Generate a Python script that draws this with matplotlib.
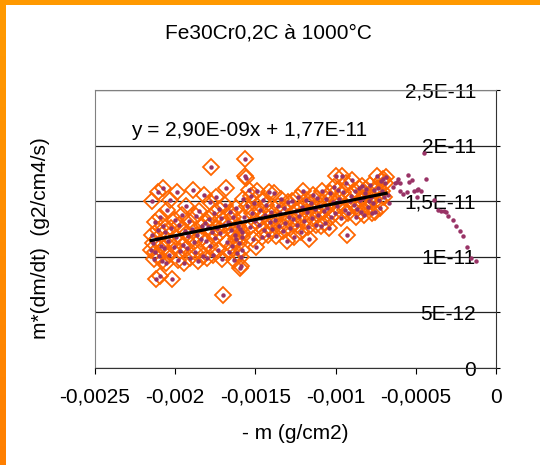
import numpy as np
import matplotlib
matplotlib.use('Agg')
import matplotlib.pyplot as plt
from matplotlib.patches import Rectangle

plt.rcParams['font.family'] = ['Liberation Sans', 'DejaVu Sans']

# points used for the fit (orange diamonds), x in 1e-4 g/cm2, y in 1e-12
fit_x = [-21.50, -21.46, -21.42, -21.38, -21.33, -21.28, -21.24, -21.20, -21.15, -21.10,
         -21.06, -21.02, -20.97, -20.92, -20.87, -20.83, -20.78, -20.73, -20.68, -20.63,
         -20.58, -20.53, -20.47, -20.40, -20.33, -20.25, -20.17, -20.09, -20.02,
         -19.95, -19.88, -19.81, -19.74, -19.67, -19.60, -19.53, -19.46, -19.40, -19.33,
         -19.26, -19.19, -19.12, -19.05, -18.98, -18.91, -18.84, -18.77, -18.70, -18.63,
         -18.56, -18.49, -18.42, -18.35, -18.28, -18.21, -18.14, -18.08, -18.03, -17.98,
         -17.92, -17.86, -17.80, -17.74, -17.68, -17.62, -17.56, -17.50, -17.44, -17.38,
         -17.32, -17.26, -17.20, -17.14, -17.08, -17.02, -16.96, -16.90, -16.84, -16.78,
         -16.72, -16.66, -16.60, -16.54, -16.48, -16.42, -16.36, -16.30, -16.24, -16.18,
         -16.12, -16.06,
         -16.02, -15.98, -15.95, -15.92, -15.89, -15.86, -15.84, -15.82,
         -15.78, -15.72, -15.66, -15.62, -15.57, -15.50, -15.43, -15.36, -15.29, -15.22,
         -15.15, -15.08, -15.01, -14.94, -14.87, -14.80, -14.73, -14.66, -14.59, -14.52,
         -14.45, -14.38, -14.31, -14.24, -14.17, -14.10,
         -14.02, -13.94, -13.86, -13.78, -13.70, -13.62, -13.54, -13.46, -13.38, -13.30,
         -13.22, -13.14, -13.06, -12.98, -12.90, -12.82, -12.74, -12.66, -12.58, -12.50,
         -12.42, -12.34, -12.26, -12.18, -12.10, -12.03,
         -11.95, -11.87, -11.79, -11.71, -11.63, -11.55, -11.47, -11.39, -11.31, -11.23,
         -11.15, -11.07, -10.99, -10.91, -10.83, -10.75, -10.67, -10.59, -10.51, -10.43,
         -10.35, -10.27, -10.19, -10.11, -10.04, -9.98,
         -9.92, -9.84, -9.76, -9.68, -9.60, -9.52, -9.44, -9.36, -9.28, -9.20,
         -9.12, -9.04, -8.96, -8.88, -8.80, -8.72, -8.64, -8.57, -8.50, -8.43,
         -8.36, -8.29, -8.22, -8.15, -8.08, -8.01, -7.94, -7.87, -7.80, -7.73,
         -7.66, -7.59, -7.52, -7.45, -7.38, -7.31, -7.24, -7.17, -7.10, -7.03,
         -6.96, -6.90, -6.85]
fit_y = [10.6, 12.0, 15.0, 11.2, 9.8, 13.1, 10.4, 8.0, 11.6, 15.8,
         12.4, 10.1, 8.3, 13.6, 11.0, 9.6, 12.8, 16.2, 10.8, 12.2,
         9.4, 14.2, 11.4, 10.2, 15.1, 12.6, 8.0, 10.9, 13.3,
         11.8, 15.8, 9.7, 12.9, 10.5, 13.8, 11.1, 9.4, 12.3, 14.6,
         10.8, 11.9, 13.2, 9.9, 12.5, 16.0, 11.3, 10.4, 13.7, 12.0,
         9.6, 14.1, 11.6, 12.8, 10.1, 15.6, 13.0, 11.4, 9.9, 12.7,
         13.4, 11.0, 14.9, 18.1, 12.2, 10.2, 13.9, 11.7, 15.4, 12.6,
         10.6, 14.3, 12.1, 13.5, 9.8, 6.6, 12.9, 14.7, 16.2, 11.3,
         13.1, 10.4, 14.0, 12.4, 11.0, 13.6, 9.7, 12.0, 14.4, 11.6,
         10.3, 12.8,
         11.2, 9.0, 12.5, 10.0, 9.2, 11.8, 10.6, 12.2,
         15.2, 13.6, 18.8, 17.3, 17.1, 14.6, 16.0, 12.7, 15.5, 13.9,
         11.6, 14.8, 13.2, 10.9, 15.9, 12.9, 14.2, 13.5, 11.8, 15.1,
         12.4, 13.8, 14.7, 12.0, 15.8, 13.1,
         14.0, 12.5, 15.7, 13.3, 11.9, 14.6, 12.8, 13.9, 15.2, 12.3,
         14.4, 13.0, 11.4, 14.9, 13.6, 12.6, 15.0, 13.4, 11.8, 14.1,
         12.9, 15.4, 13.7, 12.2, 14.5, 15.9,
         13.2, 15.1, 14.0, 12.7, 11.6, 14.8, 13.5, 15.6, 14.3, 12.9,
         15.3, 13.8, 14.6, 12.8, 15.9, 14.1, 13.0, 15.2, 14.4, 12.6,
         15.7, 13.6, 14.9, 16.3, 13.9, 17.3,
         14.6, 16.0, 15.2, 13.5, 17.3, 15.8, 14.2, 16.6, 12.0, 13.9,
         15.0, 15.5, 16.9, 14.7, 15.9, 13.6, 14.3, 16.2, 15.1, 14.0,
         16.4, 15.3, 13.8, 15.7, 16.1, 14.5, 15.0, 16.5, 15.4, 13.9,
         14.8, 16.0, 14.0, 17.3, 16.2, 15.1, 14.4, 16.8, 15.9, 17.0,
         15.4, 16.6, 17.2]

# remaining points (purple dots only)
tail_x = [-6.72, -6.67, -6.42, -6.30, -6.20, -6.09, -5.99, -5.97, -5.78, -5.57,
          -5.51, -5.41, -5.26, -5.09, -4.93, -4.93, -4.85, -4.68, -4.47, -4.38,
          -3.85, -3.60, -3.43, -3.26, -3.14, -2.97, -2.68, -2.51, -2.26, -2.06,
          -1.81, -1.56, -1.27]
tail_y = [15.6, 14.8, 16.3, 16.6, 16.75, 16.97, 16.61, 15.94, 15.65, 15.85,
          17.38, 16.70, 16.90, 15.94, 16.01, 15.35, 16.07, 15.94, 19.35, 16.99,
          15.11, 14.21, 14.15, 14.15, 14.03, 13.67, 13.31, 12.80, 12.35, 11.88,
          10.86, 9.90, 9.66]

slope = 2.90e-9
intercept = 1.77e-11
equation = 'y = 2,90E-09x + 1,77E-11'

x_ticks = [-0.0025, -0.002, -0.0015, -0.001, -0.0005, 0]
x_tick_labels = ['-0,0025', '-0,002', '-0,0015', '-0,001', '-0,0005', '0']
y_ticks = [0, 5e-12, 1e-11, 1.5e-11, 2e-11, 2.5e-11]
y_tick_labels = ['0', '5E-12', '1E-11', '1,5E-11', '2E-11', '2,5E-11']

assert len(fit_x) == len(fit_y) and len(tail_x) == len(tail_y)

fx = np.array(fit_x) * 1e-4
fy = np.array(fit_y) * 1e-12
all_x = np.concatenate([fx, np.array(tail_x) * 1e-4])
all_y = np.concatenate([fy, np.array(tail_y) * 1e-12])

fig = plt.figure(figsize=(5.4, 4.65), dpi=100)
fig.patch.set_facecolor('white')

# orange frame on top and left
fig.add_artist(Rectangle((0, 1 - 5 / 465), 1, 5 / 465, transform=fig.transFigure,
                         color='#FF9900', lw=0))
band = fig.add_axes([0, 0, 6 / 540, 1])
band.imshow(np.linspace(0, 1, 100).reshape(-1, 1), aspect='auto',
            cmap=matplotlib.colors.LinearSegmentedColormap.from_list('o', ['#FF9A00', '#FF7F00']))
band.axis('off')

ax = fig.add_axes([95 / 540, 1 - 368 / 465, 401 / 540, 278 / 465])

ax.plot(fx, fy, linestyle='none', marker='D', markersize=8.5, markerfacecolor='none',
        markeredgecolor='#FF6600', markeredgewidth=1.3, zorder=3)
ax.plot(all_x, all_y, linestyle='none', marker='o', markersize=2.2,
        color='#993366', zorder=4)
lx = np.array([fx.min(), fx.max()])
ax.plot(lx, slope * lx + intercept, color='black', lw=2.3, zorder=5)

ax.text(0.09, 0.855, equation, transform=ax.transAxes, fontsize=15, va='center')

ax.set_xlim(-0.0025, 0)
ax.set_ylim(0, 2.5e-11)
ax.set_xticks(x_ticks)
ax.set_xticklabels(x_tick_labels, fontsize=15)
ax.set_yticks(y_ticks)
ax.set_yticklabels(y_tick_labels, fontsize=15)
ax.yaxis.set_ticks_position('right')
ax.tick_params(axis='y', direction='out', length=3, pad=-17.4, colors='black')
ax.tick_params(axis='x', direction='out', length=4.3, pad=10, colors='black')
for lab in ax.get_yticklabels():
    lab.set_horizontalalignment('right')

ax.grid(axis='y', color='#222222', lw=0.9)
for side in ['left', 'top']:
    ax.spines[side].set_color('#808080')
for side in ['right', 'bottom']:
    ax.spines[side].set_color('#333333')

ax.set_xlabel('- m (g/cm2)', fontsize=15)
ax.xaxis.set_label_coords(0.5, -0.2)
ax.set_ylabel('m*(dm/dt)  (g2/cm4/s)', fontsize=15)
ax.yaxis.set_label_position('left')
ax.yaxis.set_label_coords(-0.111, 0.468)

fig.text(268 / 540, 1 - 33 / 465, 'Fe30Cr0,2C à 1000°C', fontsize=15, ha='center', va='center')

fig.savefig('out.png', dpi=100)
